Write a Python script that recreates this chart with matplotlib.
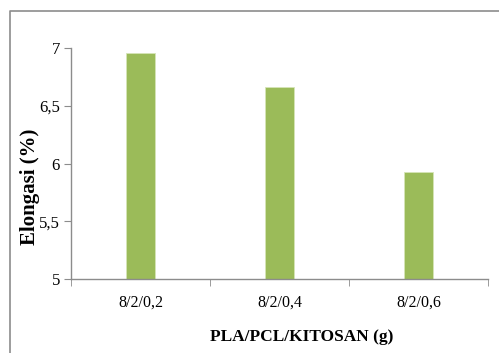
import matplotlib
matplotlib.use("Agg")
import matplotlib.pyplot as plt
from matplotlib.lines import Line2D
from matplotlib.ticker import FixedLocator, FuncFormatter

# Elongation data per PLA/PCL/chitosan composition
categories = ["8/2/0,2", "8/2/0,4", "8/2/0,6"]
elongasi = [6.96, 6.66, 5.93]
y_ticks = [5, 5.5, 6, 6.5, 7]

plt.rcParams["font.family"] = ["Liberation Serif", "DejaVu Serif"]

W, H = 499, 353
fig = plt.figure(figsize=(W / 100, H / 100), dpi=100)
fig.patch.set_facecolor("white")

# chart-area frame (left and top edges)
fx, fy = 9.5 / W, 1 - 11 / H
fig.lines.append(Line2D([fx, fx, 1.0], [0.0, fy, fy], transform=fig.transFigure,
                        color="#8c8c8c", linewidth=1.2))

ax = fig.add_axes([71 / W, 74 / H, (488 - 71) / W, (279 - 48) / H])
x = range(len(categories))
ax.bar(x, elongasi, width=0.21, color="#9BBB59", edgecolor="#d6e5b8",
       linewidth=0.6, bottom=0)

ax.set_xlim(-0.5, 2.5)
ax.set_ylim(5, 7)
ax.set_yticks(y_ticks)
ax.yaxis.set_major_formatter(FuncFormatter(
    lambda v, p: (f"{v:g}").replace(".", ",")))
ax.set_xticks(list(x))
ax.set_xticklabels(categories)
ax.xaxis.set_minor_locator(FixedLocator([-0.5, 0.5, 1.5, 2.5]))

ax.tick_params(axis="x", which="major", length=0, pad=11, labelsize=11.5)
ax.tick_params(axis="x", which="minor", length=5, color="#8c8c8c", direction="out")
ax.tick_params(axis="y", length=5, color="#8c8c8c", pad=3, labelsize=12)

for s in ("top", "right"):
    ax.spines[s].set_visible(False)
for s in ("left", "bottom"):
    ax.spines[s].set_color("#8c8c8c")
    ax.spines[s].set_linewidth(1.0)

fig.text(302 / W, 1 - 337 / H, "PLA/PCL/KITOSAN (g)", ha="center",
         va="center", fontsize=12.5, fontweight="bold")
fig.text(30 / W, 1 - 187 / H, "Elongasi (%)", ha="center", va="center",
         rotation=90, fontsize=15, fontweight="bold")

fig.savefig("out.png", dpi=100)
